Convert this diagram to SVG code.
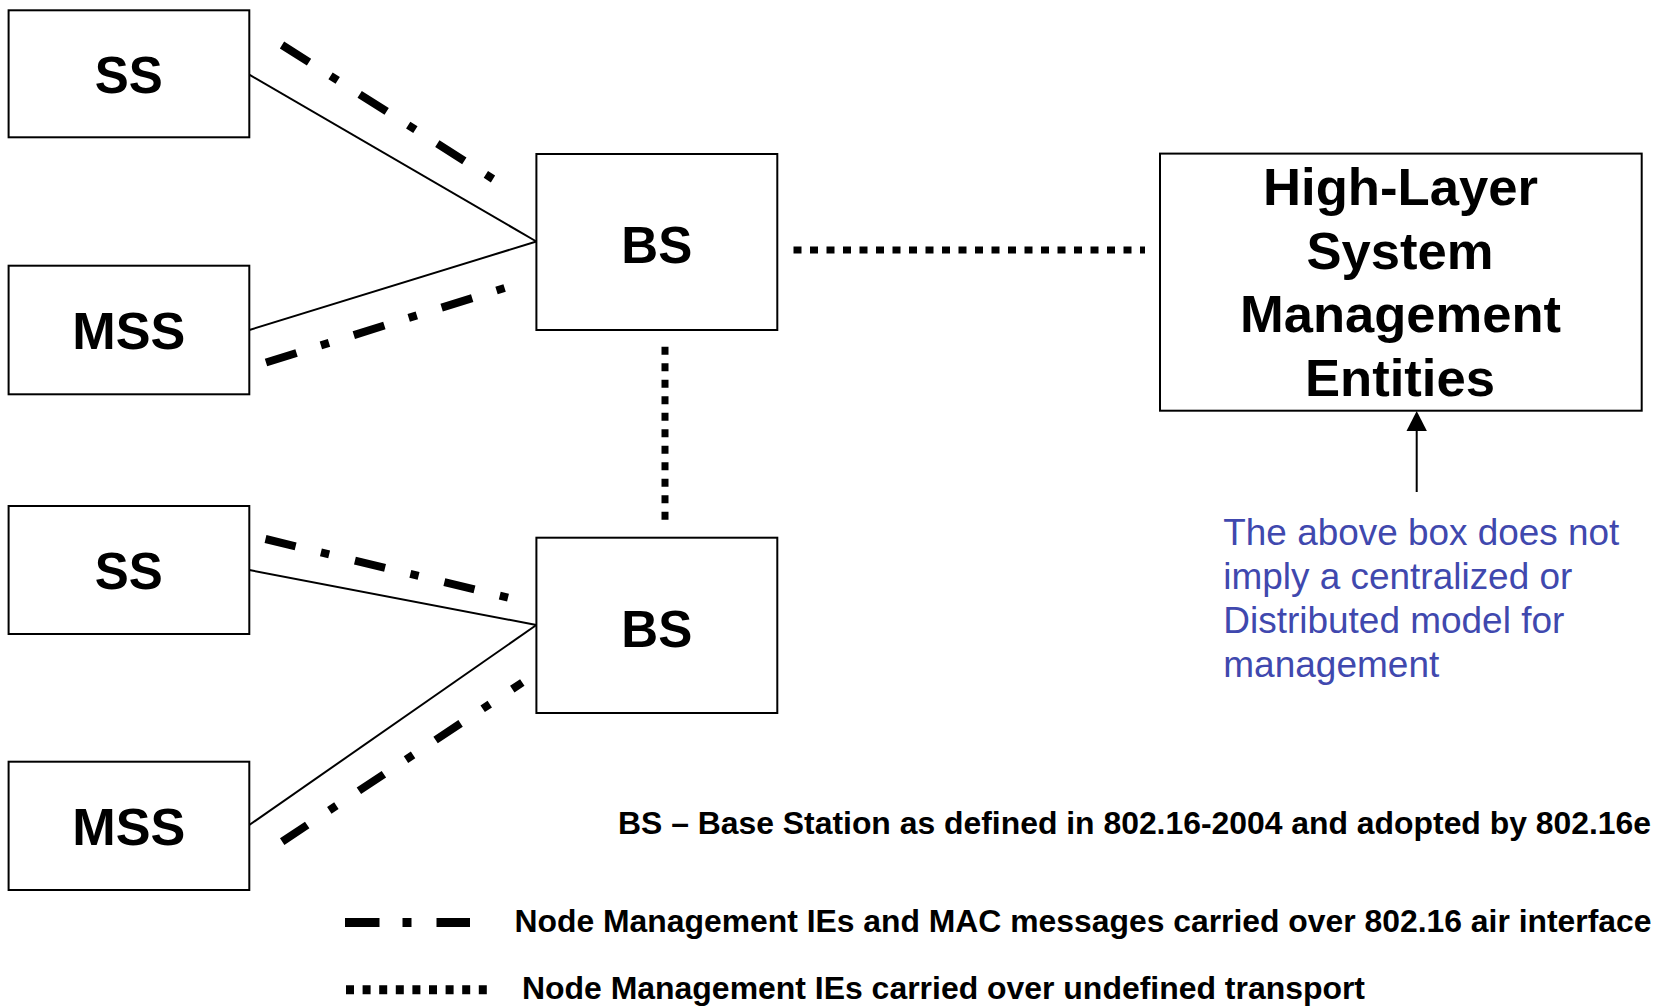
<svg xmlns="http://www.w3.org/2000/svg" width="1656" height="1007" viewBox="0 0 1656 1007">
<style>
.box{fill:#fff;stroke:#000;stroke-width:2}
.lbl{font-family:"Liberation Sans",Arial,Helvetica,sans-serif;font-weight:bold;fill:#000;text-anchor:middle;font-size:52px}
.link{stroke:#000;stroke-width:2;fill:none}
.air{stroke:#000;stroke-width:8;fill:none;stroke-linecap:butt}
.dot{stroke:#000;stroke-width:7;fill:none;stroke-dasharray:8 8.5}
.note{font-family:"Liberation Sans",Arial,Helvetica,sans-serif;fill:#4048AE;font-size:37px}
.leg{font-family:"Liberation Sans",Arial,Helvetica,sans-serif;font-weight:bold;fill:#000;font-size:31.8px}
</style>
<rect width="1656" height="1007" fill="#fff"/>
<g id="connectors">
<line class="link" x1="249.3" y1="74.7" x2="536.4" y2="241.5"/>
<line class="link" x1="249.3" y1="330" x2="536.4" y2="241.5"/>
<line class="link" x1="249.3" y1="570" x2="536.4" y2="625"/>
<line class="link" x1="249.3" y1="825" x2="536.4" y2="625"/>
<line class="air" x1="282" y1="45" x2="493" y2="179" stroke-dasharray="32 25.5 8.5 26"/>
<line class="air" x1="266" y1="362.5" x2="504.6" y2="288" stroke-dasharray="32 25.5 8.5 26"/>
<line class="air" x1="265.5" y1="539" x2="508.5" y2="597.7" stroke-dasharray="31 26 8.5 26.5"/>
<line class="air" x1="282.2" y1="841.6" x2="522.3" y2="682.5" stroke-dasharray="30 26.5 8.5 27"/>
<line class="dot" x1="793.5" y1="250" x2="1145" y2="250"/>
<line class="dot" x1="665" y1="346.7" x2="665" y2="521" stroke-dasharray="7 9.7"/>
<line stroke="#000" stroke-width="2" x1="1416.7" y1="492" x2="1416.7" y2="428"/>
<polygon points="1416.7,411 1406.5,431 1426.9,431" fill="#000"/>
</g>
<g id="ss1"><rect class="box" x="8.6" y="10.3" width="240.7" height="127"/><text class="lbl" x="128.8" y="93" textLength="68" lengthAdjust="spacingAndGlyphs">SS</text></g>
<g id="mss1"><rect class="box" x="8.6" y="265.7" width="240.7" height="128.6"/><text class="lbl" x="128.8" y="349" textLength="113" lengthAdjust="spacingAndGlyphs">MSS</text></g>
<g id="ss2"><rect class="box" x="8.6" y="506" width="240.7" height="128"/><text class="lbl" x="128.8" y="589" textLength="68" lengthAdjust="spacingAndGlyphs">SS</text></g>
<g id="mss2"><rect class="box" x="8.6" y="761.7" width="240.7" height="128.3"/><text class="lbl" x="128.8" y="845" textLength="113" lengthAdjust="spacingAndGlyphs">MSS</text></g>
<g id="bs1"><rect class="box" x="536.4" y="154" width="240.9" height="176"/><text class="lbl" x="656.8" y="263" textLength="71" lengthAdjust="spacingAndGlyphs">BS</text></g>
<g id="bs2"><rect class="box" x="536.4" y="537.7" width="240.9" height="175.3"/><text class="lbl" x="656.8" y="647" textLength="71" lengthAdjust="spacingAndGlyphs">BS</text></g>
<g id="hlsme"><rect class="box" x="1160" y="153.6" width="481.7" height="257.1"/>
<text class="lbl" font-size="52.5" x="1400.5" y="205" textLength="275" lengthAdjust="spacingAndGlyphs">High-Layer</text>
<text class="lbl" font-size="52.5" x="1400" y="268.5" textLength="187" lengthAdjust="spacingAndGlyphs">System</text>
<text class="lbl" font-size="52.5" x="1400.5" y="332" textLength="321" lengthAdjust="spacingAndGlyphs">Management</text>
<text class="lbl" font-size="52.5" x="1400" y="395.5" textLength="190" lengthAdjust="spacingAndGlyphs">Entities</text>
</g>
<g id="note">
<text class="note" x="1223.3" y="545" textLength="396" lengthAdjust="spacingAndGlyphs">The above box does not</text>
<text class="note" x="1223.3" y="589" textLength="349" lengthAdjust="spacingAndGlyphs">imply a centralized or</text>
<text class="note" x="1223.3" y="633" textLength="341" lengthAdjust="spacingAndGlyphs">Distributed model for</text>
<text class="note" x="1223.3" y="677" textLength="216" lengthAdjust="spacingAndGlyphs">management</text>
</g>
<g id="legend">
<text class="leg" x="618" y="834" textLength="1033" lengthAdjust="spacingAndGlyphs">BS – Base Station as defined in 802.16-2004 and adopted by 802.16e</text>
<line stroke="#000" stroke-width="9" x1="345" y1="922.5" x2="470" y2="922.5" stroke-dasharray="34.5 23 9 25"/>
<text class="leg" x="514.5" y="932" textLength="1137" lengthAdjust="spacingAndGlyphs">Node Management IEs and MAC messages carried over 802.16 air interface</text>
<line stroke="#000" stroke-width="9" x1="346" y1="989.7" x2="487" y2="989.7" stroke-dasharray="8 8.6"/>
<text class="leg" x="522" y="999" textLength="843" lengthAdjust="spacingAndGlyphs">Node Management IEs carried over undefined transport</text>
</g>
</svg>
